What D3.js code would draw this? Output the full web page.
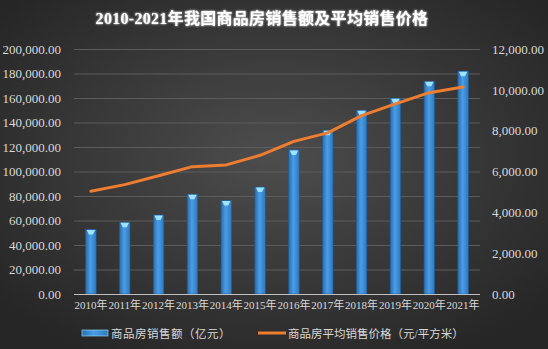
<!DOCTYPE html>
<html>
<head>
<meta charset="utf-8">
<script src="https://cdn.jsdelivr.net/npm/d3@7"></script>
<style>
  body { margin: 0; background: #333; }
  svg { display: block; }
</style>
</head>
<body>
<svg id="chart" width="548" height="349"></svg>
<script>
// data
const years = ["2010年","2011年","2012年","2013年","2014年","2015年","2016年","2017年","2018年","2019年","2020年","2021年"];
const salesAmount = [52721, 58589, 64456, 81428, 76292, 87281, 117627, 133701, 149973, 159725, 173613, 181930];
const avgPrice = [5032, 5357, 5791, 6237, 6324, 6793, 7476, 7892, 8737, 9310, 9860, 10139];
const leftTicks = [0, 20000, 40000, 60000, 80000, 100000, 120000, 140000, 160000, 180000, 200000];
const rightTicks = [0, 2000, 4000, 6000, 8000, 10000, 12000];
const titleText = "2010-2021年我国商品房销售额及平均销售价格";
const legendNames = ["商品房销售额（亿元）", "商品房平均销售价格（元/平方米）"];

const W = 548, H = 349;
const margin = {top: 49, right: 68, bottom: 55, left: 74};
const innerW = W - margin.left - margin.right;
const innerH = H - margin.top - margin.bottom;
const font = "Liberation Serif, Noto Sans CJK SC, serif";
const fmt = d3.format(",.2f");

let svg = d3.select("#chart");
let defs = svg.append("defs");

// background
let bg = defs.append("radialGradient").attr("id", "bg")
    .attr("cx", "50%").attr("cy", "45%").attr("r", "65%");
bg.append("stop").attr("offset", "0%").attr("stop-color", "#4d4d4d");
bg.append("stop").attr("offset", "100%").attr("stop-color", "#262626");
svg.append("rect").attr("width", W).attr("height", H).attr("fill", "url(#bg)");

// bar fill
let barGrad = defs.append("linearGradient").attr("id", "barGrad")
    .attr("x1", "0%").attr("x2", "100%").attr("y1", "0%").attr("y2", "0%");
barGrad.append("stop").attr("offset", "0%").attr("stop-color", "#2a6cae");
barGrad.append("stop").attr("offset", "45%").attr("stop-color", "#4a9ee6");
barGrad.append("stop").attr("offset", "100%").attr("stop-color", "#2f78bf");

let glow = defs.append("filter").attr("id", "glow");
glow.append("feGaussianBlur").attr("stdDeviation", 1.2).attr("result", "b");
let fm = glow.append("feMerge");
fm.append("feMergeNode").attr("in", "b");
fm.append("feMergeNode").attr("in", "SourceGraphic");

// title
svg.append("text")
    .attr("x", 262).attr("y", 24)
    .attr("text-anchor", "middle")
    .attr("fill", "#ffffff")
    .style("font-family", font)
    .style("font-weight", "bold")
    .style("font-size", "16px")
    .attr("letter-spacing", 0.3)
    .attr("filter", "url(#glow)")
    .text(titleText);

let g = svg.append("g").attr("transform", "translate(" + margin.left + "," + margin.top + ")");

let x = d3.scaleBand().domain(years).range([0, innerW]).paddingInner(0.69).paddingOuter(0.345);
let yL = d3.scaleLinear().domain([0, 200000]).range([innerH, 0]);
let yR = d3.scaleLinear().domain([0, 12000]).range([innerH, 0]);

// gridlines
g.append("g").selectAll("line")
    .data(leftTicks.slice(1))
    .enter().append("line")
    .attr("x1", 0).attr("x2", innerW)
    .attr("y1", (d) => yL(d) + 0.5).attr("y2", (d) => yL(d) + 0.5)
    .attr("stroke", "#5c5c5c").attr("stroke-width", 1);

// axes
let leftAxis = g.append("g").call(d3.axisLeft(yL).tickValues(leftTicks).tickFormat(fmt).tickSize(0).tickPadding(13));
let rightAxis = g.append("g").attr("transform", "translate(" + innerW + ",0)")
    .call(d3.axisRight(yR).tickValues(rightTicks).tickFormat(fmt).tickSize(0).tickPadding(12));
let bottomAxis = g.append("g").attr("transform", "translate(0," + innerH + ")")
    .call(d3.axisBottom(x).tickSize(0).tickPadding(7));
[leftAxis, rightAxis, bottomAxis].forEach((ax) => {
    ax.select(".domain").remove();
    ax.selectAll("text").attr("fill", "#d9d9d9").style("font-family", font).style("font-size", "13px");
});
bottomAxis.selectAll("text").style("font-size", "11px");

// bars
let bars = g.append("g").selectAll(".bar")
    .data(salesAmount)
    .enter().append("g").attr("class", "bar");
bars.append("rect")
    .attr("x", (d, i) => x(years[i]))
    .attr("y", (d) => yL(d))
    .attr("width", x.bandwidth())
    .attr("height", (d) => innerH - yL(d))
    .attr("fill", "url(#barGrad)")
    .attr("stroke", "#1f5c99").attr("stroke-width", 0.6);
bars.append("path")
    .attr("d", (d, i) => {
        const x0 = x(years[i]), bw = x.bandwidth(), y0 = yL(d);
        return "M" + (x0 + 1) + "," + (y0 + 0.5) + "L" + (x0 + bw - 1) + "," + (y0 + 0.5) +
               "L" + (x0 + bw / 2 + 2) + "," + (y0 + 5) + "L" + (x0 + bw / 2 - 2) + "," + (y0 + 5) + "Z";
    })
    .attr("fill", "#9ee3fb");

// baseline
g.append("line").attr("x1", 0).attr("x2", innerW)
    .attr("y1", innerH + 0.5).attr("y2", innerH + 0.5)
    .attr("stroke", "#bfbfbf").attr("stroke-width", 1.2);

// price line
let priceLine = d3.line()
    .x((d, i) => x(years[i]) + x.bandwidth() / 2)
    .y((d) => yR(d));
g.append("path")
    .datum(avgPrice)
    .attr("d", priceLine)
    .attr("fill", "none")
    .attr("stroke", "#ed7d31")
    .attr("stroke-width", 3)
    .attr("stroke-linejoin", "round")
    .attr("stroke-linecap", "round");

// legend
let legend = svg.append("g").attr("transform", "translate(0,333)");
legend.append("rect").attr("x", 82).attr("y", -3).attr("width", 26).attr("height", 6)
    .attr("fill", "url(#barGrad)").attr("stroke", "#9ee3fb").attr("stroke-width", 0.6);
legend.append("text").attr("x", 111).attr("y", 4.5)
    .attr("fill", "#d9d9d9").style("font-family", font).style("font-size", "11.5px")
    .attr("letter-spacing", 0.5)
    .text(legendNames[0]);
legend.append("line").attr("x1", 258).attr("x2", 286).attr("y1", 0).attr("y2", 0)
    .attr("stroke", "#ed7d31").attr("stroke-width", 3);
legend.append("text").attr("x", 288).attr("y", 4.5)
    .attr("fill", "#d9d9d9").style("font-family", font).style("font-size", "11.5px")
    .text(legendNames[1]);
</script>
</body>
</html>
